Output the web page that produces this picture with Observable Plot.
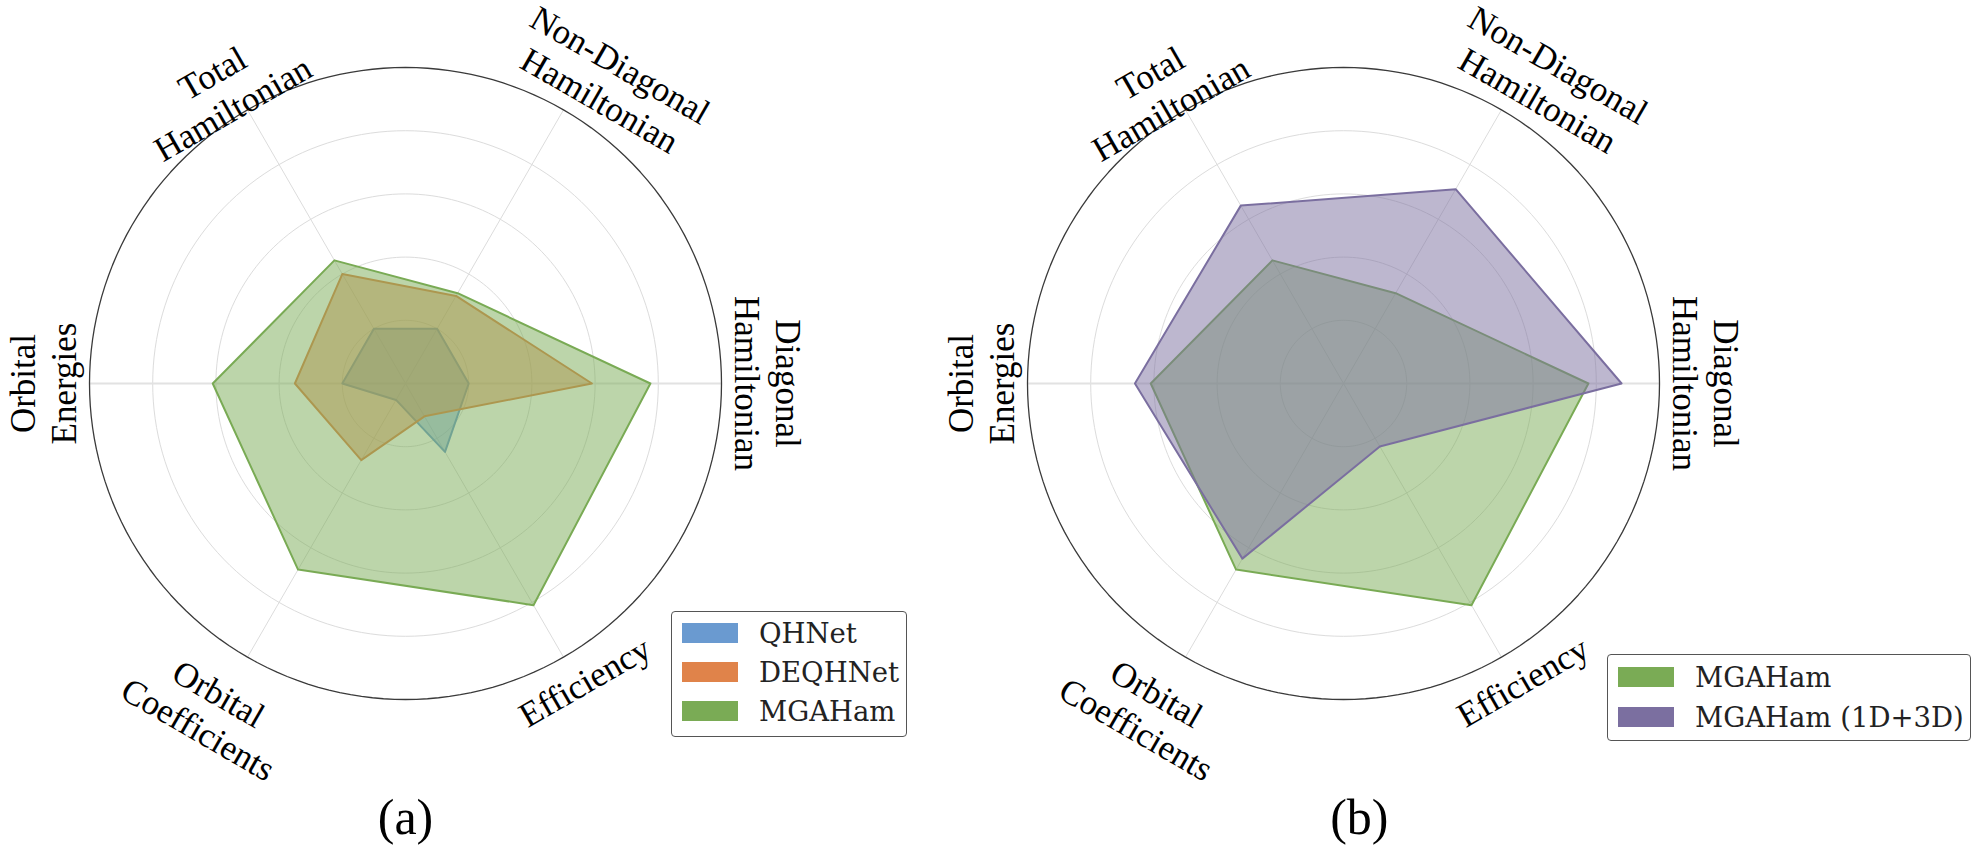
<!DOCTYPE html>
<html>
<head>
<meta charset="utf-8">
<script src="https://cdn.jsdelivr.net/npm/d3@7"></script>
<script src="https://cdn.jsdelivr.net/npm/@observablehq/plot@0.6"></script>
<style>
  html, body { margin: 0; padding: 0; background: #fff; }
  #wrap { position: relative; width: 1982px; height: 846px; display: flex; }
  .legend { position: absolute; box-sizing: border-box; border: 1.2px solid #555; border-radius: 4px; background: #fff;
            font-family: "DejaVu Serif", serif; font-size: 27.5px; color: #222; }
  .legend .row { position: absolute; left: 0; height: 20px; }
  .legend .sw { position: absolute; left: 10px; width: 56px; height: 20px; top: 0; }
  .legend .lab { position: absolute; left: 87px; top: -8px; white-space: nowrap; line-height: 36px; }
</style>
</head>
<body>
<div id="wrap"></div>
<script>
// ---- data ----
const categories = ["Diagonal\nHamiltonian", "Non-Diagonal\nHamiltonian", "Total\nHamiltonian", "Orbital\nEnergies", "Orbital\nCoefficients", "Efficiency"];
const qhnet      = [0.20, 0.20, 0.20, 0.20, 0.06, 0.25];
const deqhnet    = [0.59, 0.32, 0.40, 0.35, 0.28, 0.12];
const mgaham     = [0.775, 0.33, 0.45, 0.61, 0.68, 0.81];
const mgaham1d3d = [0.88, 0.71, 0.65, 0.66, 0.64, 0.23];
const gridLevels = [0.2, 0.4, 0.6, 0.8];
const panelLabels = ["(a)", "(b)"];
const seriesNames = ["QHNet", "DEQHNet", "MGAHam", "MGAHam (1D+3D)"];
const seriesColors = ["#6a9ad0", "#e0834a", "#7aab55", "#7b6fa0"];
// label placement (radius in axis units, angle in degrees) – layout only
const labelRadius = [1.149, 1.155, 1.096, 1.149, 1.207, 1.097];
const labelAngle  = [0, 55.8, 122, 180, 239, 301];

const W = 991, H = 846, R = 316;
const n = categories.length;
const ang = i => i * 2 * Math.PI / n;

function ringPts(levels) {
  const out = [];
  levels.forEach(l => { for (let d = 0; d < 360; d += 2) { const a = d * Math.PI / 180; out.push({l, x: l * Math.cos(a), y: l * Math.sin(a)}); } });
  return out;
}

function panel(series, cx, label, labelDx) {
  const cy = 383;
  const xd = [-cx / R, (W - cx) / R];
  const yd = [-(H - cy) / R, cy / R];
  const spokes = categories.map((c, i) => ({x: Math.cos(ang(i)), y: Math.sin(ang(i)), i}));
  const labs = categories.map((c, i) => {
    let rot = 90 - i * 360 / n;
    if (rot < -90) rot += 180;
    const r = labelRadius[i], a = labelAngle[i] * Math.PI / 180;
    return {text: c, x: r * Math.cos(a), y: r * Math.sin(a), rot};
  });
  const marks = [
    Plot.line(ringPts(gridLevels), {x: "x", y: "y", z: "l", curve: "linear-closed", stroke: "#dcdcdc", strokeWidth: 1}),
    Plot.link(spokes, {x1: 0, y1: 0, x2: "x", y2: "y", stroke: d => (d.i % 3 === 0 ? "#e2e2e2" : "#dcdcdc"), strokeWidth: d => (d.i % 3 === 0 ? 2 : 1)}),
    Plot.line(ringPts([1]), {x: "x", y: "y", curve: "linear-closed", stroke: "#3a3a3a", strokeWidth: 1.3})
  ];
  series.forEach(s => {
    const pts = s.values.map((v, i) => ({x: v * Math.cos(ang(i)), y: v * Math.sin(ang(i))}));
    marks.push(Plot.line(pts, {x: "x", y: "y", curve: "linear-closed", stroke: s.color, strokeWidth: 2}));
    marks.push(Plot.line(pts, {x: "x", y: "y", curve: "linear-closed", stroke: "none", fill: s.color, fillOpacity: 0.5}));
  });
  marks.push(Plot.text(labs, {x: "x", y: "y", text: "text", rotate: "rot", fontSize: 35, fontFamily: "Liberation Serif", fill: "#000", lineHeight: 1.17, textAnchor: "middle", lineAnchor: "middle"}));
  marks.push(Plot.text([label], {x: labelDx, y: -1.375, text: d => d, fontSize: 50, fontFamily: "Liberation Serif", fill: "#000", textAnchor: "middle", lineAnchor: "middle"}));
  return Plot.plot({
    width: W, height: H, margin: 0,
    x: {domain: xd, axis: null},
    y: {domain: yd, axis: null},
    style: {background: "#fff", overflow: "visible"},
    marks
  });
}

const wrap = document.getElementById("wrap");
wrap.appendChild(panel([
  {values: qhnet, color: seriesColors[0]},
  {values: deqhnet, color: seriesColors[1]},
  {values: mgaham, color: seriesColors[2]}
], 405, panelLabels[0], 0));
wrap.appendChild(panel([
  {values: mgaham, color: seriesColors[2]},
  {values: mgaham1d3d, color: seriesColors[3]}
], 352, panelLabels[1], 0.05));

function legend(items, left, top, width, height, firstRow, step) {
  const box = document.createElement("div");
  box.className = "legend";
  Object.assign(box.style, {left: left + "px", top: top + "px", width: width + "px", height: height + "px"});
  items.forEach((it, k) => {
    const row = document.createElement("div");
    row.className = "row";
    row.style.top = (firstRow + k * step) + "px";
    row.innerHTML = `<div class="sw" style="background:${it.color}"></div><div class="lab">${it.name}</div>`;
    box.appendChild(row);
  });
  wrap.appendChild(box);
}
legend([{name: seriesNames[0], color: seriesColors[0]}, {name: seriesNames[1], color: seriesColors[1]}, {name: seriesNames[2], color: seriesColors[2]}], 671, 611, 236, 126, 11, 39);
legend([{name: seriesNames[2], color: seriesColors[2]}, {name: seriesNames[3], color: seriesColors[3]}], 1607, 654, 364, 87, 12, 40);
</script>
</body>
</html>
